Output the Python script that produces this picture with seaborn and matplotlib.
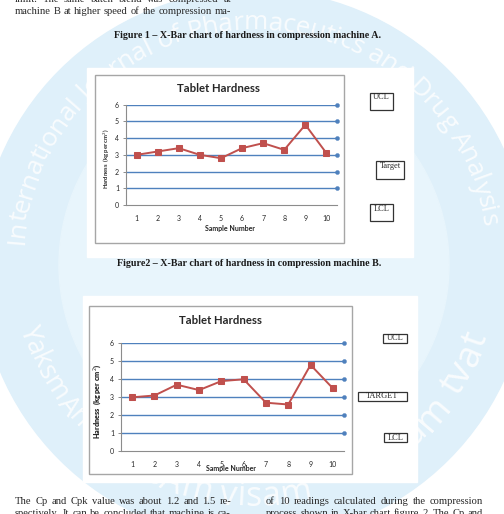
import matplotlib
matplotlib.use('Agg')
import matplotlib.pyplot as plt
import seaborn as sns
import pandas as pd
import numpy as np
from matplotlib.patches import Rectangle, Circle
from matplotlib.textpath import text_to_path
from matplotlib.font_manager import FontProperties

# chart data
samples = list(range(1, 11))
hardness_a = [3.0, 3.2, 3.4, 3.0, 2.8, 3.4, 3.7, 3.3, 4.8, 3.1]
hardness_b = [3.0, 3.1, 3.7, 3.4, 3.9, 4.0, 2.7, 2.6, 4.8, 3.5]
grid_levels = [1, 2, 3, 4, 5, 6]
limit_labels_a = ['UCL', 'Target', 'LCL']
limit_labels_b = ['UCL', 'TARGET', 'LCL']

caption_a = 'Figure 1 \u2013 X-Bar chart of hardness in compression machine A.'
caption_b = 'Figure2 \u2013 X-Bar chart of hardness in compression machine B.'
body_top = ['limit. The same batch blend was compressed at',
            'machine B at higher speed of the compression ma-']
body_left = ['The Cp and Cpk value was about 1.2 and 1.5 re-',
             'spectively. It can be concluded that machine is ca-']
body_right = ['of 10 readings calculated during the compression',
              'process shown in X-bar chart figure 2. The Cp and']
watermark_top = 'International Journal of Pharmaceutics and Drug Analysis'

df = pd.DataFrame({'sample': samples, 'A': hardness_a, 'B': hardness_b})

RED = '#c0504d'
BLUE = '#4f81bd'
GRAY = '#8c8c8c'
W, H = 504, 514

sns.set_style('white')
plt.rcParams['font.family'] = ['Lato', 'DejaVu Sans']

fig = plt.figure(figsize=(W / 100, H / 100), dpi=100)
bg = fig.add_axes([0, 0, 1, 1])
bg.set_xlim(0, W)
bg.set_ylim(H, 0)
bg.axis('off')


def px_rect(x0, y0, x1, y1):
    return [x0 / W, 1 - y1 / H, (x1 - x0) / W, (y1 - y0) / H]


def text_px(s, fp):
    w = text_to_path.get_text_width_height_descent(s, fp, ismath=False)[0]
    return w * 100 / 72


def arc_text(s, cx, cy, r, th0, th1, inward=False, weight='normal'):
    # letters spread along a circle, sized to fill the arc
    fp1 = FontProperties(family='Open Sans', size=10, weight=weight)
    widths = [text_px(c, fp1) for c in s]
    total = sum(widths)
    arclen = r * np.deg2rad(abs(th1 - th0))
    fp = FontProperties(family='Open Sans', size=10 * arclen / total, weight=weight)
    pos = 0
    for c, w in zip(s, widths):
        th = th0 + (th1 - th0) * (pos + w / 2) / total
        t = np.deg2rad(th)
        rot = th + 90 if inward else th - 90
        bg.text(cx + r * np.cos(t), cy - r * np.sin(t), c, rotation=rot,
                rotation_mode='anchor', ha='center', va='center',
                fontproperties=fp, color='white', alpha=0.8, zorder=1)
        pos += w


def justify(line, x0, x1, y, fp):
    words = line.split()
    widths = [text_px(wd, fp) for wd in words]
    gap = (x1 - x0 - sum(widths)) / (len(words) - 1)
    x = x0
    for wd, w in zip(words, widths):
        bg.text(x, y, wd, fontproperties=fp, color='#262626', va='center', ha='left', zorder=3)
        x += w + gap


# watermark disc
bg.add_patch(Circle((254, 265), 275, color='#dff0fa', zorder=0))
bg.add_patch(Circle((254, 265), 195, color='#e8f5fc', zorder=0))
arc_text(watermark_top, 254, 261, 238, 176, 8.5)
arc_text('YaksmAn', 254, 261, 236, 196, 224, inward=True)
arc_text('sAm visam', 254, 261, 236, 243, 284, inward=True)
arc_text('anam tvat', 254, 261, 236, 300, 342, inward=True)

# body text and captions
serif = FontProperties(family='Liberation Serif', size=7.6)
justify(body_top[0], 15, 231, -1, serif)
justify(body_top[1], 15, 231, 11, serif)
justify(body_left[0], 15, 231, 501, serif)
justify(body_left[1], 15, 231, 513, serif)
justify(body_right[0], 266, 483, 501, serif)
justify(body_right[1], 266, 483, 513, serif)

cap_fp = FontProperties(family='Liberation Serif', size=7.2, weight='bold')
bg.text(248, 36, caption_a, fontproperties=cap_fp, ha='center', va='center', color='#1a1a1a', zorder=3)
bg.text(249, 264, caption_b, fontproperties=cap_fp, ha='center', va='center', color='#1a1a1a', zorder=3)

# white chart panels and frames
bg.add_patch(Rectangle((87, 68), 326, 189, color='white', zorder=2))
bg.add_patch(Rectangle((83, 296), 334, 186, color='white', zorder=2))
bg.add_patch(Rectangle((95, 75), 249, 168, fill=False, ec='#a6a6a6', lw=1, zorder=3))
bg.add_patch(Rectangle((89, 306), 263, 168, fill=False, ec='#a6a6a6', lw=1, zorder=3))

# limit boxes
box_fp = FontProperties(family='Liberation Serif', size=6)
boxes_a = [(370, 93, 393, 110, 97), (376, 161, 404, 179, 166), (370, 204, 393, 221, 209)]
boxes_b = [(383, 334, 407, 343, 338.5), (358, 392, 407, 401, 396.5), (384, 433, 407, 442, 437.5)]
for lab, (x0, y0, x1, y1, ty) in zip(limit_labels_a + limit_labels_b, boxes_a + boxes_b):
    bg.add_patch(Rectangle((x0, y0), x1 - x0, y1 - y0, fill=False, ec='#333333', lw=0.9, zorder=3))
    bg.text((x0 + x1) / 2, ty, lab, fontproperties=box_fp, ha='center', va='center', zorder=3)

title_fp = FontProperties(family='Lato', size=8.2, weight='bold')
bg.text(218, 88, 'Tablet Hardness', fontproperties=title_fp, ha='center', va='center', zorder=3)
bg.text(220, 320, 'Tablet Hardness', fontproperties=title_fp, ha='center', va='center', zorder=3)


def hardness_chart(ax, col, xlab_y, ylab_x, ylab_size, ylab_weight):
    ax.set_xlim(0.5, 10.5)
    ax.set_ylim(0, 6)
    for lv in grid_levels:
        ax.axhline(lv, color=BLUE, lw=1, zorder=1)
    right = ax.get_xlim()[1]
    sns.scatterplot(x=[right] * len(grid_levels), y=grid_levels, color=BLUE, s=9,
                    edgecolor=BLUE, ax=ax, zorder=4, clip_on=False)
    sns.lineplot(data=df, x='sample', y=col, color=RED, lw=1.4, marker='s',
                 markersize=4.3, markeredgecolor=RED, ax=ax, zorder=3)
    ax.set_xticks(samples)
    ax.set_xticks(np.arange(0.5, 11, 1), minor=True)
    ax.set_yticks(range(0, 7))
    ax.tick_params(axis='x', which='major', length=0, labelsize=5, pad=7)
    ax.tick_params(axis='x', which='minor', length=2.5, direction='out', color=GRAY, width=0.7)
    ax.tick_params(axis='y', length=2.5, direction='out', labelsize=5, pad=2.5, color=GRAY, width=0.7)
    ax.tick_params(left=True, bottom=True)
    sns.despine(ax=ax)
    for sp in ['left', 'bottom']:
        ax.spines[sp].set_color(GRAY)
        ax.spines[sp].set_linewidth(0.8)
    ax.set_xlabel('Sample Number', fontsize=5, fontweight='bold')
    ax.set_ylabel('Hardness  (kg per cm$^{2}$)', fontsize=ylab_size, fontweight=ylab_weight)
    ax.xaxis.set_label_coords(0.493, xlab_y)
    ax.yaxis.set_label_coords(ylab_x, 0.46)
    ax.set_facecolor('white')


ax1 = fig.add_axes(px_rect(126, 104.7, 337, 205))
hardness_chart(ax1, 'A', -0.2, -0.065, 4.2, 'bold')
ax2 = fig.add_axes(px_rect(121, 343.3, 344, 451.3))
hardness_chart(ax2, 'B', -0.13, -0.08, 5.2, 'heavy')

fig.savefig('out.png', dpi=100)
